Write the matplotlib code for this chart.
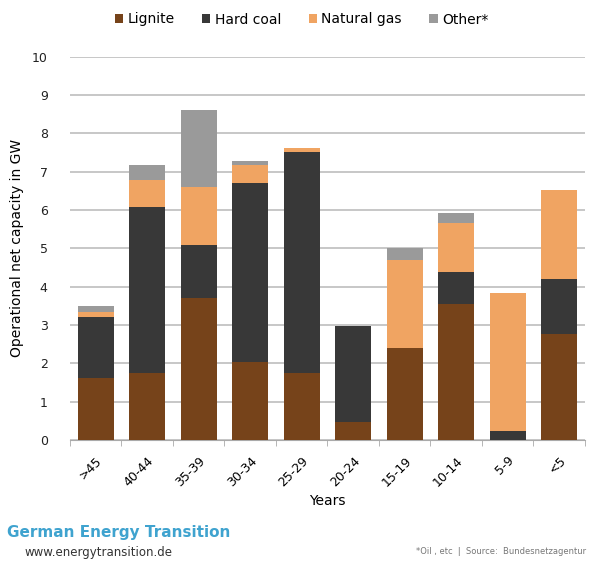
import numpy as np
import matplotlib
matplotlib.use('Agg')
import matplotlib.pyplot as plt

# Age groups of plants (years in operation)
age_groups = ['>45', '40-44', '35-39', '30-34', '25-29', '20-24', '15-19', '10-14', '5-9', '<5']

lignite     = [1.62, 1.75, 3.70, 2.04, 1.75, 0.47, 2.40, 3.55, 0.00, 2.77]
hard_coal   = [1.59, 4.33, 1.39, 4.67, 5.77, 2.51, 0.00, 0.84, 0.24, 1.43]
natural_gas = [0.13, 0.71, 1.51, 0.47, 0.10, 0.00, 2.30, 1.28, 3.60, 2.33]
other       = [0.16, 0.39, 2.02, 0.10, 0.00, 0.00, 0.31, 0.26, 0.00, 0.00]

series = [('Lignite', lignite, '#76431a'),
          ('Hard coal', hard_coal, '#383838'),
          ('Natural gas', natural_gas, '#f0a462'),
          ('Other*', other, '#9a9a9a')]

plt.rcParams['font.family'] = ['DejaVu Sans']

fig = plt.figure(figsize=(6.03, 5.62), dpi=100)
ax = fig.add_axes([0.116, 0.217, 0.854, 0.682])

x = np.arange(len(age_groups))
bottom = np.zeros(len(age_groups))
for name, vals, col in series:
    ax.bar(x, vals, width=0.7, bottom=bottom, color=col, label=name, zorder=3)
    bottom += np.array(vals)

ax.set_ylim(0, 10)
ax.set_xlim(-0.5, len(age_groups) - 0.5)
ax.set_yticks(range(0, 11))
ax.yaxis.grid(True, color='#bdbdbd', linewidth=1.2, zorder=0)
ax.tick_params(axis='y', length=0, labelsize=9, pad=16, colors='#222222')

ax.set_xticks(x)
ax.set_xticklabels(age_groups, rotation=45, ha='right', rotation_mode='anchor', fontsize=9)
ax.set_xticks(np.arange(-0.5, len(age_groups)), minor=True)
ax.tick_params(axis='x', which='major', length=0, pad=10)
ax.tick_params(axis='x', which='minor', length=4, color='#aaaaaa')

for s in ['top', 'right', 'left']:
    ax.spines[s].set_visible(False)
ax.spines['bottom'].set_color('#aaaaaa')

ax.set_ylabel('Operational net capacity in GW', fontsize=10, labelpad=6)
ax.set_xlabel('Years', fontsize=10, labelpad=4)

leg = fig.legend(loc='upper center', bbox_to_anchor=(0.5, 1.0), ncol=4, frameon=False,
                 fontsize=10, handlelength=0.6, handleheight=0.6, handletextpad=0.3,
                 columnspacing=2.0)

fig.text(0.012, 0.045, 'German Energy Transition', color='#3fa3cf', fontsize=11,
         fontweight='bold')
fig.text(0.04, 0.01, 'www.energytransition.de', color='#333333', fontsize=8.5)
fig.text(0.69, 0.015, '*Oil , etc  |  Source:  Bundesnetzagentur', color='#777777', fontsize=6)

plt.savefig('out.png', dpi=100)
